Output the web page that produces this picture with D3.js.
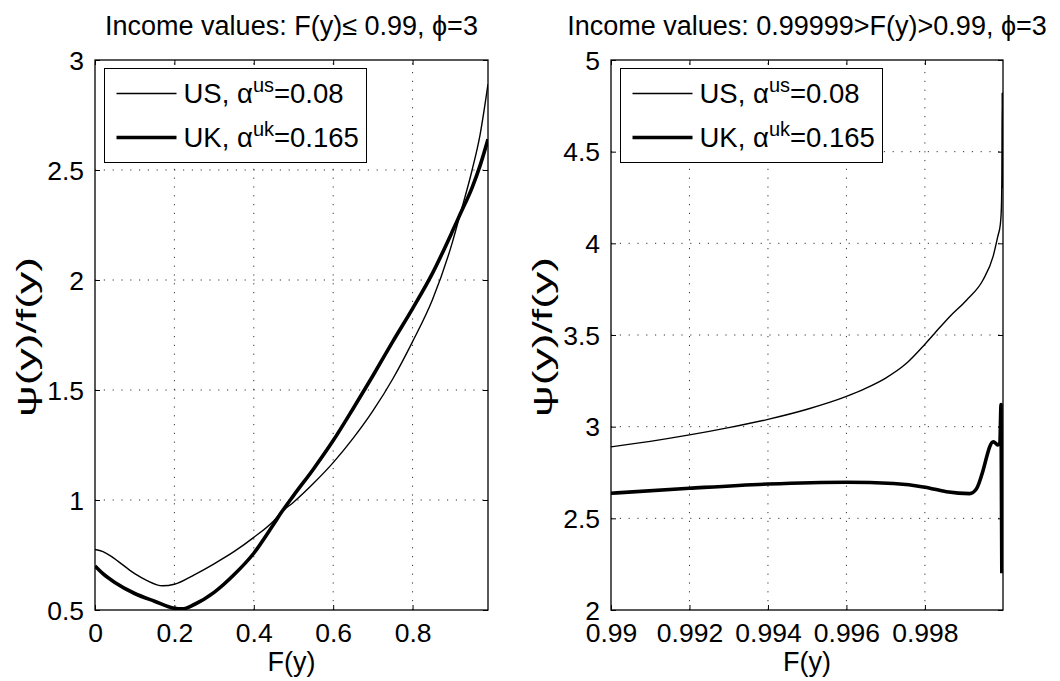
<!DOCTYPE html>
<html>
<head>
<meta charset="utf-8">
<script src="https://cdn.jsdelivr.net/npm/d3@7"></script>
<style>
  html, body { margin: 0; padding: 0; background: #fff; }
  svg text { font-family: "Liberation Sans", Arial, Helvetica, sans-serif; fill: #000; }
</style>
</head>
<body>
<svg id="chart" width="1060" height="681"></svg>
<script>
// ---- Left panel: F(y) <= 0.99 ----
const leftF  = [0, 0.02, 0.04, 0.07, 0.1, 0.13, 0.17, 0.2, 0.25, 0.3, 0.35, 0.4, 0.45, 0.47, 0.5, 0.55, 0.6, 0.65, 0.7, 0.75, 0.8, 0.85, 0.9, 0.92, 0.95, 0.97, 0.99];
const leftUS = [0.775, 0.765, 0.745, 0.705, 0.665, 0.635, 0.61, 0.617, 0.66, 0.71, 0.765, 0.83, 0.905, 0.945, 0.99, 1.075, 1.17, 1.28, 1.405, 1.55, 1.72, 1.91, 2.17, 2.3, 2.5, 2.66, 2.89];
const leftUKF = [0, 0.02, 0.05, 0.1, 0.15, 0.2, 0.22, 0.25, 0.3, 0.35, 0.4, 0.45, 0.47, 0.5, 0.55, 0.6, 0.65, 0.7, 0.75, 0.8, 0.85, 0.9, 0.92, 0.95, 0.97, 0.99];
const leftUK  = [0.70, 0.665, 0.625, 0.575, 0.54, 0.508, 0.505, 0.525, 0.58, 0.66, 0.758, 0.89, 0.945, 1.02, 1.14, 1.27, 1.415, 1.565, 1.72, 1.87, 2.03, 2.22, 2.3, 2.42, 2.52, 2.64];

// ---- Right panel: 0.99 < F(y) < 0.99999 ----
const rightUSF = [0.99, 0.991, 0.992, 0.993, 0.994, 0.995, 0.996, 0.9965, 0.997, 0.9975, 0.998, 0.99825, 0.99863, 0.99906, 0.99948, 0.99974, 0.99986, 0.99992, 0.99995, 0.999962, 0.99997, 0.999975];
const rightUS  = [2.89, 2.92, 2.955, 2.995, 3.04, 3.095, 3.165, 3.21, 3.265, 3.34, 3.45, 3.51, 3.6, 3.69, 3.8, 3.93, 4.04, 4.1, 4.2, 4.4, 4.82, 4.3];
const rightUKF = [0.99, 0.992, 0.994, 0.996, 0.9972, 0.998, 0.99855, 0.99914, 0.99931, 0.99948, 0.99958, 0.99965, 0.99974, 0.9998, 0.99986, 0.99991, 0.99994, 0.99996];
const rightUK  = [2.637, 2.664, 2.687, 2.697, 2.69, 2.67, 2.645, 2.635, 2.66, 2.76, 2.84, 2.89, 2.918, 2.91, 2.9, 2.91, 3.12, 2.2];

// ---- Axis tick values and labels ----
const leftXTicks  = [0, 0.2, 0.4, 0.6, 0.8];
const leftYTicks  = [0.5, 1, 1.5, 2, 2.5, 3];
const rightXTicks = [0.99, 0.992, 0.994, 0.996, 0.998];
const rightYTicks = [2, 2.5, 3, 3.5, 4, 4.5, 5];

const seriesNames = ["US", "UK"];
const alphaSup    = ["us", "uk"];
const alphaVals   = ["0.08", "0.165"];
const titles = ["Income values: F(y)\u2264 0.99, \u03D5=3", "Income values: 0.99999>F(y)>0.99, \u03D5=3"];

const FS = 26.5;
const svg = d3.select("#chart");

function panel(opts) {
  const { x0, x1, y0, y1, xDomain, yDomain, xTicks, yTicks, series, title, id } = opts;
  const x = d3.scaleLinear().domain(xDomain).range([x0, x1]);
  const y = d3.scaleLinear().domain(yDomain).range([y1, y0]);
  const g = svg.append("g");

  svg.append("clipPath").attr("id", id).append("rect")
    .attr("x", x0).attr("y", y0).attr("width", x1 - x0).attr("height", y1 - y0);

  // dotted grid
  const grid = g.append("g").attr("stroke", "#333").attr("stroke-width", 1)
    .attr("stroke-dasharray", "1.2,7.6");
  xTicks.filter(t => x(t) > x0 + 1 && x(t) < x1 - 1).forEach(t => {
    grid.append("line").attr("x1", x(t)).attr("x2", x(t)).attr("y1", y1).attr("y2", y0);
  });
  yTicks.filter(t => y(t) > y0 + 1 && y(t) < y1 - 1).forEach(t => {
    grid.append("line").attr("y1", y(t)).attr("y2", y(t)).attr("x1", x0).attr("x2", x1);
  });

  // series lines
  const lines = g.append("g").attr("clip-path", `url(#${id})`);
  series.forEach(s => {
    const line = d3.line().x(d => x(d[0])).y(d => y(d[1])).curve(d3.curveMonotoneX);
    lines.append("path").datum(d3.zip(s.xs, s.ys))
      .attr("d", line).attr("fill", "none").attr("stroke", "#000")
      .attr("stroke-width", s.w).attr("stroke-linejoin", "round");
  });

  // axes with inward ticks on all four sides
  const tl = 5;
  const bottom = d3.axisBottom(x).tickValues(xTicks).tickSize(-tl).tickFormat(d3.format(""));
  const top = d3.axisTop(x).tickValues(xTicks).tickSize(-tl).tickFormat("");
  const left = d3.axisLeft(y).tickValues(yTicks).tickSize(-tl).tickFormat(d3.format("")).tickPadding(tl + 6);
  const right = d3.axisRight(y).tickValues(yTicks).tickSize(-tl).tickFormat("");

  const ax = [
    g.append("g").attr("transform", `translate(0,${y1})`).call(bottom),
    g.append("g").attr("transform", `translate(0,${y0})`).call(top),
    g.append("g").attr("transform", `translate(${x0},0)`).call(left),
    g.append("g").attr("transform", `translate(${x1},0)`).call(right)
  ];
  ax.forEach(a => {
    a.select(".domain").remove();
    a.selectAll(".tick line").attr("stroke", "#000").attr("stroke-width", 1);
    a.selectAll("text").style("font-size", FS + "px").attr("fill", "#000");
  });
  ax[0].selectAll("text").attr("y", 32).attr("dy", null);
  ax[2].selectAll("text").attr("dy", "0.35em");

  // frame
  g.append("rect").attr("x", x0).attr("y", y0).attr("width", x1 - x0).attr("height", y1 - y0)
    .attr("fill", "none").attr("stroke", "#000").attr("stroke-width", 1.3);

  // title
  g.append("text").attr("x", (x0 + x1) / 2).attr("y", 35).attr("text-anchor", "middle")
    .style("font-size", "27px").text(title);

  // axis labels
  g.append("text").attr("x", (x0 + x1) / 2).attr("y", 671).attr("text-anchor", "middle")
    .style("font-size", "27px").text("F(y)");
  g.append("text").attr("transform", `translate(${x0 - 59},${(y0 + y1) / 2 + 2}) rotate(-90)`)
    .attr("text-anchor", "middle").style("font-size", "27px")
    .attr("textLength", 160).attr("lengthAdjust", "spacingAndGlyphs")
    .text("\u03C8(y)/f(y)");

  // legend
  const lg = g.append("g");
  const lx = x0 + 9.5, ly = 68.5, lw = 262, lh = 94;
  lg.append("rect").attr("x", lx).attr("y", ly).attr("width", lw).attr("height", lh)
    .attr("fill", "#fff").attr("stroke", "#000").attr("stroke-width", 1);
  series.forEach((s, i) => {
    const cy = ly + 25 + i * 44;
    lg.append("line").attr("x1", lx + 12).attr("x2", lx + 72).attr("y1", cy).attr("y2", cy)
      .attr("stroke", "#000").attr("stroke-width", s.w);
    const t = lg.append("text").attr("x", lx + 79).attr("y", cy + 9).style("font-size", "27.5px");
    t.append("tspan").text(`${seriesNames[i]}, \u03B1`);
    t.append("tspan").attr("dy", -11).style("font-size", "20px").text(alphaSup[i]);
    t.append("tspan").attr("dy", 11).text(`=${alphaVals[i]}`);
  });
}

panel({
  id: "clipL", x0: 95, x1: 488, y0: 60, y1: 610,
  xDomain: [0, 0.99], yDomain: [0.5, 3],
  xTicks: leftXTicks, yTicks: leftYTicks,
  series: [{ xs: leftF, ys: leftUS, w: 1.4 }, { xs: leftUKF, ys: leftUK, w: 3.6 }],
  title: titles[0]
});

panel({
  id: "clipR", x0: 611, x1: 1003, y0: 60, y1: 610,
  xDomain: [0.99, 0.99999], yDomain: [2, 5],
  xTicks: rightXTicks, yTicks: rightYTicks,
  series: [{ xs: rightUSF, ys: rightUS, w: 1.4 }, { xs: rightUKF, ys: rightUK, w: 3.6 }],
  title: titles[1]
});
</script>
</body>
</html>
